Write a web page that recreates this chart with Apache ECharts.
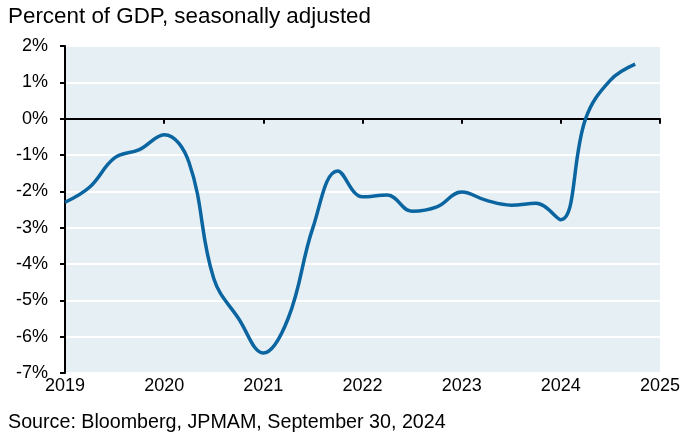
<!DOCTYPE html>
<html><head><meta charset="utf-8">
<script src="https://cdn.jsdelivr.net/npm/echarts@6/dist/echarts.min.js"></script>
<style>html,body{margin:0;padding:0;background:#fff}#c{width:695px;height:436px}</style>
</head><body><div id="c"></div>
<script>
// Time in decimal years (quarterly), values in percent of GDP
var dates = [2019.00, 2019.25, 2019.50, 2019.75, 2020.00, 2020.25, 2020.50, 2020.75,
             2021.00, 2021.25, 2021.50, 2021.75, 2022.00, 2022.25, 2022.50, 2022.75,
             2023.00, 2023.25, 2023.50, 2023.75, 2024.00, 2024.25, 2024.50, 2024.75];
var values = [-2.30, -1.88, -1.08, -0.85, -0.44, -1.20, -4.40, -5.50,
              -6.45, -5.50, -3.00, -1.44, -2.15, -2.10, -2.55, -2.43,
              -2.02, -2.25, -2.38, -2.33, -2.78, 0.00, 1.06, 1.50];
var yTicks = [-7, -6, -5, -4, -3, -2, -1, 0, 1, 2];
var xTicks = [2019, 2020, 2021, 2022, 2023, 2024, 2025];
var subtitle = 'Percent of GDP, seasonally adjusted';
var source = 'Source: Bloomberg, JPMAM, September 30, 2024';

var font = 'Liberation Sans, Arial, sans-serif';
var chart = echarts.init(document.getElementById('c'), null, {renderer: 'canvas'});
chart.setOption({
  animation: false,
  textStyle: {fontFamily: font},
  graphic: [
    {type: 'text', left: 8, top: 6, style: {text: subtitle, font: '22.4px ' + font, fill: '#000'}},
    {type: 'text', left: 8, top: 413, style: {text: source, font: '19.7px ' + font, fill: '#000'}}
  ],
  grid: {left: 65, right: 35, top: 46, bottom: 63, show: true, backgroundColor: '#E6EFF3', borderWidth: 0},
  xAxis: [
    {type: 'value', min: xTicks[0], max: xTicks[xTicks.length - 1], interval: 1,
     axisLine: {show: true, onZero: true, lineStyle: {color: '#000', width: 2}},
     axisTick: {show: true, length: 5, lineStyle: {color: '#000', width: 2}},
     axisLabel: {show: false}, splitLine: {show: false}},
    {type: 'value', position: 'bottom', min: xTicks[0], max: xTicks[xTicks.length - 1], interval: 1,
     axisLine: {show: false, onZero: false}, axisTick: {show: false}, splitLine: {show: false},
     axisLabel: {show: true, margin: 4, color: '#000', fontSize: 18, fontFamily: font,
       formatter: function (v) { return xTicks.indexOf(v) >= 0 ? String(v) : ''; }}}
  ],
  yAxis: {
    type: 'value', min: yTicks[0], max: yTicks[yTicks.length - 1], interval: 1,
    axisLine: {show: true, onZero: false, lineStyle: {color: '#000', width: 2}},
    axisTick: {show: true, length: 5, lineStyle: {color: '#000', width: 2}},
    axisLabel: {margin: 17, color: '#000', fontSize: 18, fontFamily: font, formatter: '{value}%'},
    splitLine: {show: true, lineStyle: {color: '#fff', width: 2}}
  },
  series: [{
    type: 'line', xAxisIndex: 0, smooth: 0.4, symbol: 'none',
    lineStyle: {color: '#0A65A0', width: 3.5},
    data: dates.map(function (d, i) { return [d, values[i]]; })
  }]
});
</script></body></html>
